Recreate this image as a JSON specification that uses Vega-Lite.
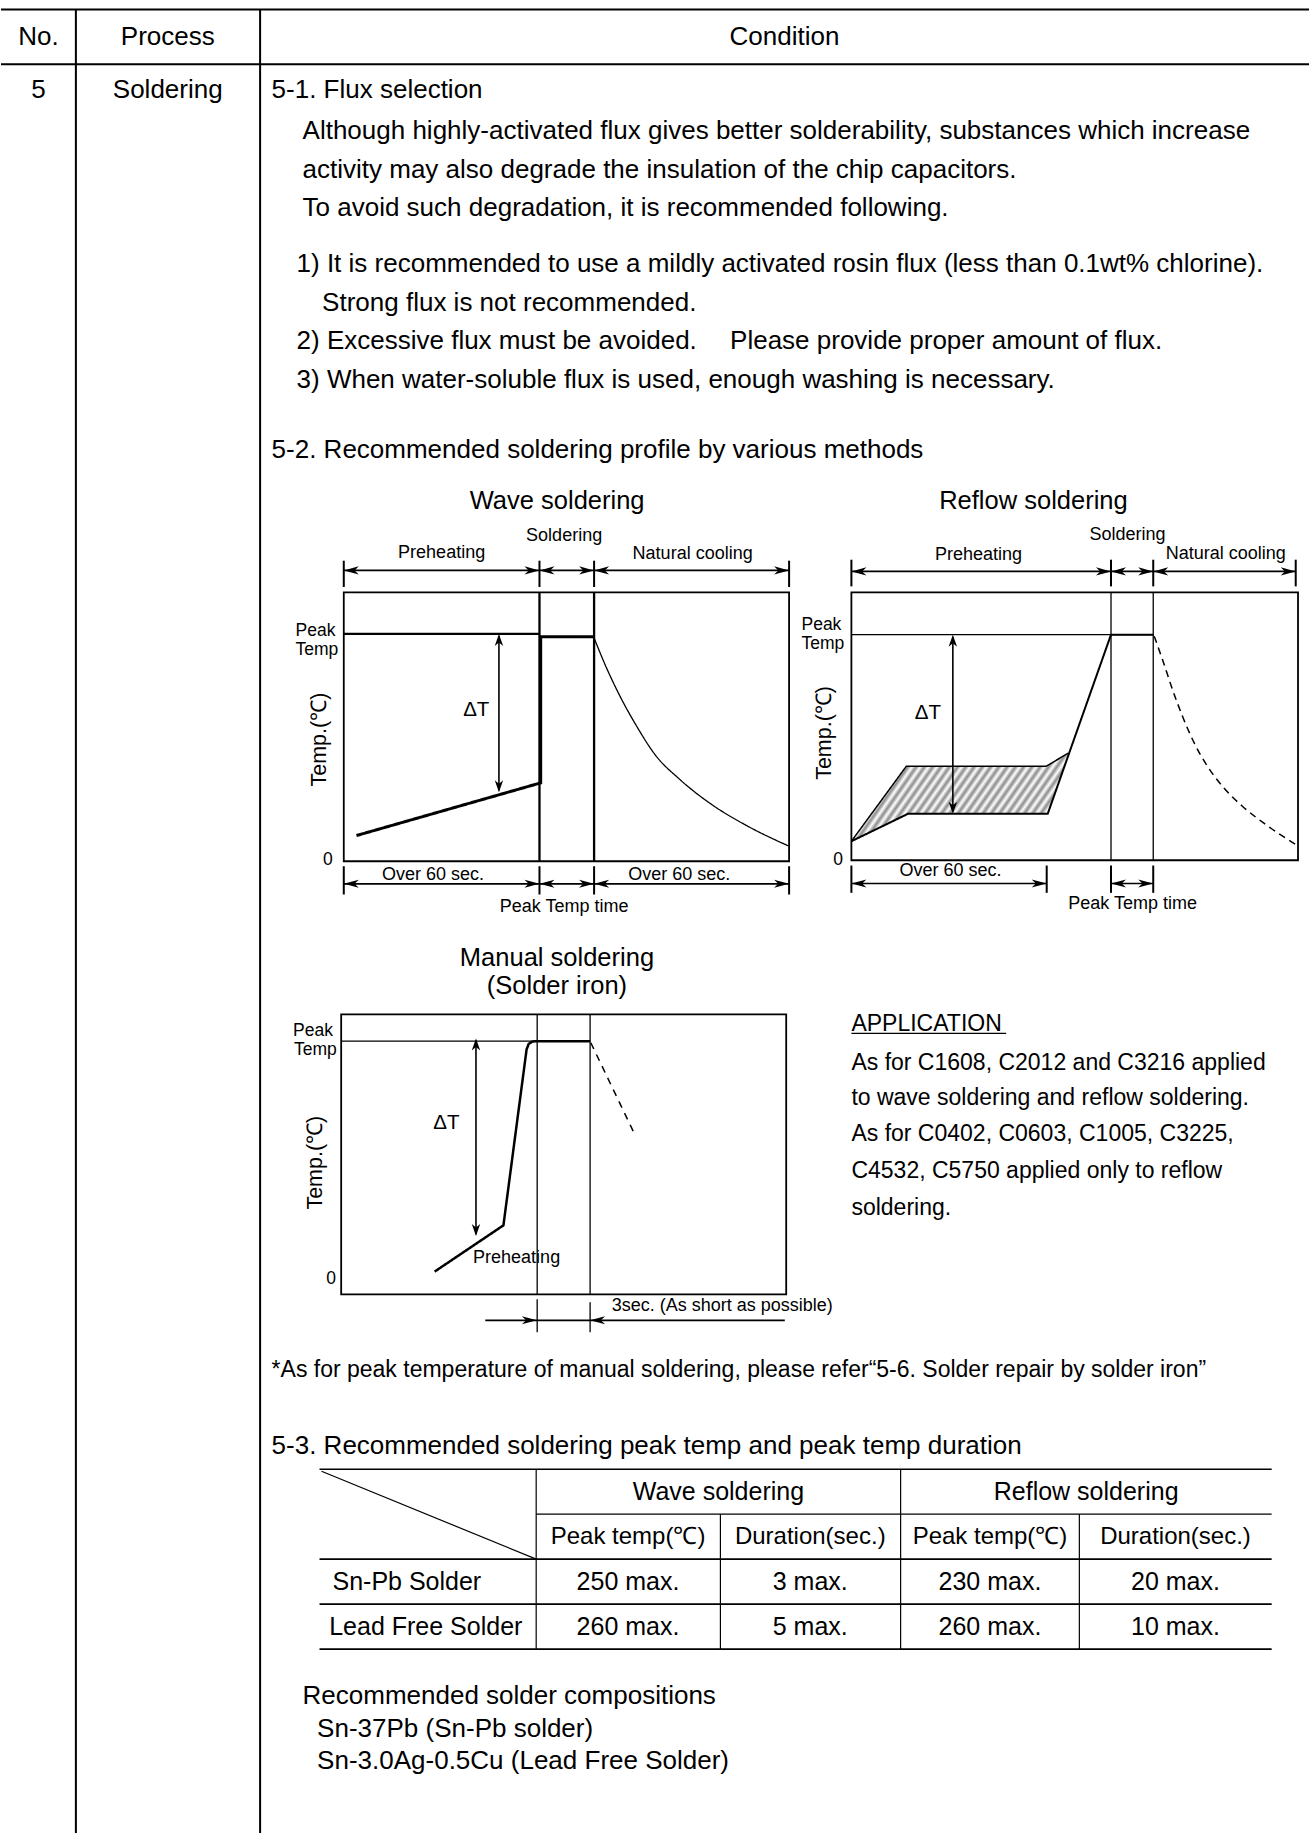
{
  "$schema": "https://vega.github.io/schema/vega-lite/v6.json",
  "width": 1310,
  "height": 1834,
  "padding": 0,
  "autosize": {"type": "fit", "contains": "padding"},
  "background": "white",
  "config": {"view": {"stroke": null}},
  "datasets": {
    "segs": [
      {"g":"page","x":0,"y":9.4,"x2":1310,"y2":9.4},
      {"g":"page","x":0,"y":64.3,"x2":1310,"y2":64.3},
      {"g":"page","x":75,"y":9.4,"x2":75,"y2":1834},
      {"g":"page","x":259.5,"y":9.4,"x2":259.5,"y2":1834},
      {"g":"wdiv","x":539.3,"y":592.7,"x2":539.3,"y2":861.7},
      {"g":"wdiv","x":594,"y":592.7,"x2":594,"y2":861.7},
      {"g":"wpeak","x":343.3,"y":634.3,"x2":539.3,"y2":634.3},
      {"g":"tick","x":343.3,"y":561,"x2":343.3,"y2":587.3},
      {"g":"tick","x":539.3,"y":561,"x2":539.3,"y2":587.3},
      {"g":"tick","x":594,"y":561,"x2":594,"y2":587.3},
      {"g":"tick","x":789.3,"y":561,"x2":789.3,"y2":587.3},
      {"g":"tick","x":343.3,"y":866.7,"x2":343.3,"y2":895},
      {"g":"tick","x":539.3,"y":866.7,"x2":539.3,"y2":895},
      {"g":"tick","x":594,"y":866.7,"x2":594,"y2":895},
      {"g":"tick","x":789.3,"y":866.7,"x2":789.3,"y2":895},
      {"g":"tick","x":851.7,"y":560,"x2":851.7,"y2":586.7},
      {"g":"tick","x":1111.7,"y":560,"x2":1111.7,"y2":586.7},
      {"g":"tick","x":1154,"y":560,"x2":1154,"y2":586.7},
      {"g":"tick","x":1296.7,"y":560,"x2":1296.7,"y2":586.7},
      {"g":"tick","x":851.7,"y":866,"x2":851.7,"y2":893.3},
      {"g":"tick","x":1047.3,"y":866,"x2":1047.3,"y2":893.3},
      {"g":"tick","x":1111.7,"y":866,"x2":1111.7,"y2":893.3},
      {"g":"tick","x":1154,"y":866,"x2":1154,"y2":893.3},
      {"g":"shaft","x":343.3,"y":570.7,"x2":789.3,"y2":570.7},
      {"g":"shaft","x":343.3,"y":884.3,"x2":789.3,"y2":884.3},
      {"g":"shaft","x":851.7,"y":571.7,"x2":1296.7,"y2":571.7},
      {"g":"shaft","x":851.7,"y":884,"x2":1047.3,"y2":884},
      {"g":"shaft","x":1111.7,"y":884,"x2":1154,"y2":884},
      {"g":"shaft","x":485,"y":1321,"x2":785,"y2":1321},
      {"g":"dt","x":498.7,"y":636,"x2":498.7,"y2":791},
      {"g":"dt","x":953.3,"y":637,"x2":953.3,"y2":812},
      {"g":"dt","x":475.7,"y":1041,"x2":475.7,"y2":1235},
      {"g":"thin","x":1111.7,"y":592.7,"x2":1111.7,"y2":860.7},
      {"g":"thin","x":1154,"y":592.7,"x2":1154,"y2":860.7},
      {"g":"thin","x":851.7,"y":635,"x2":1154,"y2":635},
      {"g":"thin","x":537,"y":1015,"x2":537,"y2":1295},
      {"g":"thin","x":590,"y":1015,"x2":590,"y2":1295},
      {"g":"thin","x":340.7,"y":1041.7,"x2":590,"y2":1041.7},
      {"g":"thin","x":537,"y":1300,"x2":537,"y2":1333},
      {"g":"thin","x":590,"y":1303,"x2":590,"y2":1333},
      {"g":"thin","x":851.7,"y":1034,"x2":1006.7,"y2":1034},
      {"g":"tbl","x":319,"y":1470,"x2":1272.6,"y2":1470},
      {"g":"tbl","x":319,"y":1560,"x2":1272.6,"y2":1560},
      {"g":"tbl","x":319,"y":1605,"x2":1272.6,"y2":1605},
      {"g":"tbl","x":319,"y":1650,"x2":1272.6,"y2":1650},
      {"g":"tblt","x":536,"y":1515,"x2":1272.6,"y2":1515},
      {"g":"tblt","x":536,"y":1470,"x2":536,"y2":1650},
      {"g":"tblt","x":901,"y":1470,"x2":901,"y2":1650},
      {"g":"tblt","x":720.5,"y":1515,"x2":720.5,"y2":1650},
      {"g":"tblt","x":1080,"y":1515,"x2":1080,"y2":1650},
      {"g":"tblt","x":321,"y":1472,"x2":536,"y2":1560}
    ],
    "boxes": [
      {"x":343.3,"x2":789.3,"y":592.7,"y2":861.7},
      {"x":851.7,"x2":1299,"y":592.7,"y2":860.7},
      {"x":340.7,"x2":786.4,"y":1015,"y2":1295}
    ],
    "hatch": [
      {"x":851.7,"y":841.7,"y2":841.7},
      {"x":906.7,"y":766.7,"y2":815.1},
      {"x":908.3,"y":766.7,"y2":814.3},
      {"x":1046.7,"y":766.7,"y2":814.3},
      {"x":1048.3,"y":765.8,"y2":814.3},
      {"x":1069,"y":753.5,"y2":753.5}
    ],
    "paths": [
      {"p":"waveProfile","o":1,"x":356,"y":836},
      {"p":"waveProfile","o":2,"x":540.5,"y":783.3},
      {"p":"waveProfile","o":3,"x":540.5,"y":637},
      {"p":"waveProfile","o":4,"x":594,"y":637},
      {"p":"reflowUpper","o":1,"x":851.7,"y":841.7},
      {"p":"reflowUpper","o":2,"x":906.7,"y":766.7},
      {"p":"reflowUpper","o":3,"x":1046.7,"y":766.7},
      {"p":"reflowUpper","o":4,"x":1069,"y":753.5},
      {"p":"reflowLower","o":1,"x":851.7,"y":841.7},
      {"p":"reflowLower","o":2,"x":908.3,"y":814.3},
      {"p":"reflowLower","o":3,"x":1048.3,"y":814.3},
      {"p":"reflowLower","o":4,"x":1111.7,"y":635},
      {"p":"reflowLower","o":5,"x":1154,"y":635},
      {"p":"manualProfile","o":1,"x":434.3,"y":1272.3},
      {"p":"manualProfile","o":2,"x":503.2,"y":1226},
      {"p":"manualProfile","o":3,"x":526.4,"y":1050},
      {"p":"manualProfile","o":4,"x":528.5,"y":1044.5},
      {"p":"manualProfile","o":5,"x":532,"y":1042.2},
      {"p":"manualProfile","o":6,"x":536,"y":1041.7},
      {"p":"manualProfile","o":7,"x":590,"y":1041.7},
      {"p":"manualCool","o":1,"x":590.7,"y":1043.3},
      {"p":"manualCool","o":2,"x":633.6,"y":1132.7},
      {"p":"waveCool","o":1,"x":594,"y":638.3},
      {"p":"waveCool","o":2,"x":605,"y":665},
      {"p":"waveCool","o":3,"x":620,"y":696.7},
      {"p":"waveCool","o":4,"x":636.7,"y":726.7},
      {"p":"waveCool","o":5,"x":655,"y":755},
      {"p":"waveCool","o":6,"x":680,"y":780},
      {"p":"waveCool","o":7,"x":713.3,"y":806},
      {"p":"waveCool","o":8,"x":746.7,"y":826},
      {"p":"waveCool","o":9,"x":789.3,"y":846.7},
      {"p":"reflowCool","o":1,"x":1155,"y":636.7},
      {"p":"reflowCool","o":2,"x":1163.3,"y":660},
      {"p":"reflowCool","o":3,"x":1173.3,"y":690},
      {"p":"reflowCool","o":4,"x":1183.3,"y":716.7},
      {"p":"reflowCool","o":5,"x":1195,"y":743.3},
      {"p":"reflowCool","o":6,"x":1208.3,"y":766.7},
      {"p":"reflowCool","o":7,"x":1223.3,"y":786.7},
      {"p":"reflowCool","o":8,"x":1243.3,"y":806.7},
      {"p":"reflowCool","o":9,"x":1266.7,"y":825},
      {"p":"reflowCool","o":10,"x":1296.7,"y":845}
    ],
    "heads": [
      {"x":343.3,"y":570.7,"dir":"l"},{"x":539.3,"y":570.7,"dir":"r"},
      {"x":539.3,"y":570.7,"dir":"l"},{"x":594,"y":570.7,"dir":"r"},
      {"x":594,"y":570.7,"dir":"l"},{"x":789.3,"y":570.7,"dir":"r"},
      {"x":343.3,"y":884.3,"dir":"l"},{"x":539.3,"y":884.3,"dir":"r"},
      {"x":539.3,"y":884.3,"dir":"l"},{"x":594,"y":884.3,"dir":"r"},
      {"x":594,"y":884.3,"dir":"l"},{"x":789.3,"y":884.3,"dir":"r"},
      {"x":851.7,"y":571.7,"dir":"l"},{"x":1111.7,"y":571.7,"dir":"r"},
      {"x":1111.7,"y":571.7,"dir":"l"},{"x":1154,"y":571.7,"dir":"r"},
      {"x":1154,"y":571.7,"dir":"l"},{"x":1296.7,"y":571.7,"dir":"r"},
      {"x":851.7,"y":884,"dir":"l"},{"x":1047.3,"y":884,"dir":"r"},
      {"x":1111.7,"y":884,"dir":"l"},{"x":1154,"y":884,"dir":"r"},
      {"x":536.7,"y":1321,"dir":"r"},{"x":590,"y":1321,"dir":"l"},
      {"x":498.7,"y":634.3,"dir":"u"},{"x":498.7,"y":792.7,"dir":"d"},
      {"x":953.3,"y":635,"dir":"u"},{"x":953.3,"y":814.3,"dir":"d"},
      {"x":475.7,"y":1039,"dir":"u"},{"x":475.7,"y":1236.7,"dir":"d"}
    ],
    "texts": [
      {"k":"c","t":"No.","x":37.5,"y":37},
      {"k":"c","t":"Process","x":167,"y":37},
      {"k":"c","t":"Condition","x":784.7,"y":37},
      {"k":"c","t":"5","x":37.5,"y":90},
      {"k":"c","t":"Soldering","x":167,"y":90},
      {"k":"b","t":"5-1. Flux selection","x":271,"y":90},
      {"k":"b","t":"Although highly-activated flux gives better solderability, substances which increase","x":302,"y":131},
      {"k":"b","t":"activity may also degrade the insulation of the chip capacitors.","x":302,"y":169.6},
      {"k":"b","t":"To avoid such degradation, it is recommended following.","x":302,"y":208},
      {"k":"b","t":"1) It is recommended to use a mildly activated rosin flux (less than 0.1wt% chlorine).","x":296,"y":264.3},
      {"k":"b","t":"Strong flux is not recommended.","x":321.6,"y":303},
      {"k":"b","t":"2) Excessive flux must be avoided.\u2003 Please provide proper amount of flux.","x":296,"y":341.5},
      {"k":"b","t":"3) When water-soluble flux is used, enough washing is necessary.","x":296,"y":380},
      {"k":"b","t":"5-2. Recommended soldering profile by various methods","x":271,"y":450},
      {"k":"b","t":"5-3. Recommended soldering peak temp and peak temp duration","x":271,"y":1447},
      {"k":"b","t":"Recommended solder compositions","x":302,"y":1697},
      {"k":"b","t":"Sn-37Pb (Sn-Pb solder)","x":316.6,"y":1730},
      {"k":"b","t":"Sn-3.0Ag-0.5Cu (Lead Free Solder)","x":316.6,"y":1761.7},
      {"k":"fn","t":"*As for peak temperature of manual soldering, please refer“5-6. Solder repair by solder iron”","x":271,"y":1371},
      {"k":"app","t":"APPLICATION","x":851.7,"y":1025},
      {"k":"app","t":"As for C1608, C2012 and C3216 applied","x":851.7,"y":1063.3},
      {"k":"app","t":"to wave soldering and reflow soldering.","x":851.7,"y":1098.3},
      {"k":"app","t":"As for C0402, C0603, C1005, C3225,","x":851.7,"y":1135},
      {"k":"app","t":"C4532, C5750 applied only to reflow","x":851.7,"y":1171.7},
      {"k":"app","t":"soldering.","x":851.7,"y":1208.3},
      {"k":"ti","t":"Wave soldering","x":557,"y":501},
      {"k":"ti","t":"Reflow soldering","x":1034,"y":501},
      {"k":"ti","t":"Manual soldering","x":556.8,"y":958.3},
      {"k":"ti","t":"(Solder iron)","x":556.8,"y":986.7},
      {"k":"s","t":"Soldering","x":564,"y":536},
      {"k":"s","t":"Preheating","x":441.3,"y":553.3},
      {"k":"s","t":"Natural cooling","x":692.7,"y":554.3},
      {"k":"s","t":"Over 60 sec.","x":432.7,"y":875},
      {"k":"s","t":"Over 60 sec.","x":679.3,"y":875},
      {"k":"s","t":"Peak Temp time","x":564,"y":907.3},
      {"k":"s","t":"Soldering","x":1128.3,"y":535},
      {"k":"s","t":"Preheating","x":979,"y":555.7},
      {"k":"s","t":"Natural cooling","x":1226.7,"y":554.3},
      {"k":"s","t":"Over 60 sec.","x":951,"y":871.7},
      {"k":"s","t":"Peak Temp time","x":1133.3,"y":904},
      {"k":"s","t":"Preheating","x":516.4,"y":1258.3},
      {"k":"sl","t":"3sec. (As short as possible)","x":611.7,"y":1306.7},
      {"k":"pk","t":"Peak","x":295,"y":631},
      {"k":"pk","t":"Temp","x":295,"y":650},
      {"k":"pk","t":"Peak","x":801.7,"y":625},
      {"k":"pk","t":"Temp","x":801.7,"y":644},
      {"k":"pk","t":"Peak","x":292.5,"y":1031.7},
      {"k":"pk","t":"Temp","x":293.5,"y":1050.7},
      {"k":"z","t":"0","x":327.3,"y":860},
      {"k":"z","t":"0","x":838.3,"y":860.7},
      {"k":"z","t":"0","x":330.7,"y":1279.3},
      {"k":"dt","t":"ΔT","x":476,"y":710.7},
      {"k":"dt","t":"ΔT","x":928.3,"y":713.3},
      {"k":"dt","t":"ΔT","x":446,"y":1123.3},
      {"k":"r","t":"Temp.(℃)","x":319.3,"y":740},
      {"k":"r","t":"Temp.(℃)","x":825,"y":733.3},
      {"k":"r","t":"Temp.(℃)","x":315.7,"y":1163.3},
      {"k":"tc","t":"Wave soldering","x":718.5,"y":1493},
      {"k":"tc","t":"Reflow soldering","x":1086.8,"y":1493},
      {"k":"th","t":"Peak temp(℃)","x":628,"y":1537.5},
      {"k":"th","t":"Duration(sec.)","x":810.5,"y":1537.5},
      {"k":"th","t":"Peak temp(℃)","x":990.5,"y":1537.5},
      {"k":"th","t":"Duration(sec.)","x":1176.3,"y":1537.5},
      {"k":"tl","t":"Sn-Pb Solder","x":332,"y":1583},
      {"k":"tc","t":"250 max.","x":628,"y":1583},
      {"k":"tc","t":"3 max.","x":810.5,"y":1583},
      {"k":"tc","t":"230 max.","x":990.5,"y":1583},
      {"k":"tc","t":"20 max.","x":1176.3,"y":1583},
      {"k":"tl","t":"Lead Free Solder","x":328.7,"y":1628},
      {"k":"tc","t":"260 max.","x":628,"y":1628},
      {"k":"tc","t":"5 max.","x":810.5,"y":1628},
      {"k":"tc","t":"260 max.","x":990.5,"y":1628},
      {"k":"tc","t":"10 max.","x":1176.3,"y":1628}
    ]
  },
  "encoding": {
    "x": {"field": "x", "type": "quantitative", "scale": {"domain": [0, 1310], "nice": false, "zero": false}, "axis": null},
    "y": {"field": "y", "type": "quantitative", "scale": {"domain": [0, 1834], "reverse": true, "nice": false, "zero": false}, "axis": null}
  },
  "resolve": {"scale": {"strokeWidth": "independent", "strokeDash": "independent"}},
  "layer": [
    {
      "data": {"name": "hatch"},
      "mark": {"type": "area", "stroke": null, "opacity": 1, "fill": {"gradient": "linear", "x1": 0, "y1": 0, "x2": 1.2, "y2": 0.34, "stops": [
        {"offset":0,"color":"#8c8c8c"},{"offset":0.0147,"color":"#ffffff"},{"offset":0.0294,"color":"#8c8c8c"},{"offset":0.0441,"color":"#ffffff"},
        {"offset":0.0588,"color":"#8c8c8c"},{"offset":0.0735,"color":"#ffffff"},{"offset":0.0882,"color":"#8c8c8c"},{"offset":0.1029,"color":"#ffffff"},
        {"offset":0.1176,"color":"#8c8c8c"},{"offset":0.1324,"color":"#ffffff"},{"offset":0.1471,"color":"#8c8c8c"},{"offset":0.1618,"color":"#ffffff"},
        {"offset":0.1765,"color":"#8c8c8c"},{"offset":0.1912,"color":"#ffffff"},{"offset":0.2059,"color":"#8c8c8c"},{"offset":0.2206,"color":"#ffffff"},
        {"offset":0.2353,"color":"#8c8c8c"},{"offset":0.25,"color":"#ffffff"},{"offset":0.2647,"color":"#8c8c8c"},{"offset":0.2794,"color":"#ffffff"},
        {"offset":0.2941,"color":"#8c8c8c"},{"offset":0.3088,"color":"#ffffff"},{"offset":0.3235,"color":"#8c8c8c"},{"offset":0.3382,"color":"#ffffff"},
        {"offset":0.3529,"color":"#8c8c8c"},{"offset":0.3676,"color":"#ffffff"},{"offset":0.3824,"color":"#8c8c8c"},{"offset":0.3971,"color":"#ffffff"},
        {"offset":0.4118,"color":"#8c8c8c"},{"offset":0.4265,"color":"#ffffff"},{"offset":0.4412,"color":"#8c8c8c"},{"offset":0.4559,"color":"#ffffff"},
        {"offset":0.4706,"color":"#8c8c8c"},{"offset":0.4853,"color":"#ffffff"},{"offset":0.5,"color":"#8c8c8c"},{"offset":0.5147,"color":"#ffffff"},
        {"offset":0.5294,"color":"#8c8c8c"},{"offset":0.5441,"color":"#ffffff"},{"offset":0.5588,"color":"#8c8c8c"},{"offset":0.5735,"color":"#ffffff"},
        {"offset":0.5882,"color":"#8c8c8c"},{"offset":0.6029,"color":"#ffffff"},{"offset":0.6176,"color":"#8c8c8c"},{"offset":0.6324,"color":"#ffffff"},
        {"offset":0.6471,"color":"#8c8c8c"},{"offset":0.6618,"color":"#ffffff"},{"offset":0.6765,"color":"#8c8c8c"},{"offset":0.6912,"color":"#ffffff"},
        {"offset":0.7059,"color":"#8c8c8c"},{"offset":0.7206,"color":"#ffffff"},{"offset":0.7353,"color":"#8c8c8c"},{"offset":0.75,"color":"#ffffff"},
        {"offset":0.7647,"color":"#8c8c8c"},{"offset":0.7794,"color":"#ffffff"},{"offset":0.7941,"color":"#8c8c8c"},{"offset":0.8088,"color":"#ffffff"},
        {"offset":0.8235,"color":"#8c8c8c"},{"offset":0.8382,"color":"#ffffff"},{"offset":0.8529,"color":"#8c8c8c"},{"offset":0.8676,"color":"#ffffff"},
        {"offset":0.8824,"color":"#8c8c8c"},{"offset":0.8971,"color":"#ffffff"},{"offset":0.9118,"color":"#8c8c8c"},{"offset":0.9265,"color":"#ffffff"},
        {"offset":0.9412,"color":"#8c8c8c"},{"offset":0.9559,"color":"#ffffff"},{"offset":0.9706,"color":"#8c8c8c"},{"offset":0.9853,"color":"#ffffff"},
        {"offset":1,"color":"#8c8c8c"}
      ]}},
      "encoding": {"y2": {"field": "y2"}}
    },
    {
      "data": {"name": "boxes"},
      "mark": {"type": "rect", "filled": false, "color": "black", "strokeWidth": 1.8},
      "encoding": {"x2": {"field": "x2"}, "y2": {"field": "y2"}}
    },
    {
      "data": {"name": "segs"},
      "mark": {"type": "rule", "color": "black", "strokeCap": "butt"},
      "encoding": {
        "x2": {"field": "x2"}, "y2": {"field": "y2"},
        "strokeWidth": {"field": "g", "type": "nominal", "legend": null, "scale": {"type": "ordinal", "domain": ["page","wdiv","wpeak","tick","shaft","dt","thin","tbl","tblt"], "range": [2, 2.3, 2.2, 2, 1.7, 1.6, 1.3, 1.6, 1.2]}}
      }
    },
    {
      "data": {"name": "paths"},
      "transform": [{"filter": {"field": "p", "oneOf": ["waveProfile","reflowUpper","reflowLower","manualProfile","manualCool"]}}],
      "mark": {"type": "line", "color": "black", "strokeJoin": "miter"},
      "encoding": {
        "detail": {"field": "p"},
        "order": {"field": "o", "type": "quantitative"},
        "strokeWidth": {"field": "p", "type": "nominal", "legend": null, "scale": {"type": "ordinal", "domain": ["waveProfile","reflowUpper","reflowLower","manualProfile","manualCool"], "range": [3, 1.5, 2, 2.5, 1.5]}},
        "strokeDash": {"field": "p", "type": "nominal", "legend": null, "scale": {"domain": ["waveProfile","reflowUpper","reflowLower","manualProfile","manualCool"], "range": [[1,0],[1,0],[1,0],[1,0],[7,6]]}}
      }
    },
    {
      "data": {"name": "paths"},
      "transform": [{"filter": {"field": "p", "oneOf": ["waveCool","reflowCool"]}}],
      "mark": {"type": "line", "color": "black", "interpolate": "monotone"},
      "encoding": {
        "detail": {"field": "p"},
        "order": {"field": "o", "type": "quantitative"},
        "strokeWidth": {"field": "p", "type": "nominal", "legend": null, "scale": {"type": "ordinal", "domain": ["waveCool","reflowCool"], "range": [1.3, 1.5]}},
        "strokeDash": {"field": "p", "type": "nominal", "legend": null, "scale": {"domain": ["waveCool","reflowCool"], "range": [[1,0],[7,5]]}}
      }
    },
    {
      "data": {"name": "heads"},
      "transform": [{"filter": {"field": "dir", "oneOf": ["l","r"]}}],
      "mark": {"type": "point", "filled": true, "color": "black", "opacity": 1, "strokeWidth": 0, "size": 900},
      "encoding": {
        "shape": {"field": "dir", "type": "nominal", "legend": null, "scale": {"domain": ["r","l","u","d"], "range": ["M0,0L-1,-0.27L-0.72,0L-1,0.27Z","M0,0L1,-0.27L0.72,0L1,0.27Z","M0,0L-0.35,1L0,0.72L0.35,1Z","M0,0L-0.35,-1L0,-0.72L0.35,-1Z"]}}
      }
    },
    {
      "data": {"name": "heads"},
      "transform": [{"filter": {"field": "dir", "oneOf": ["u","d"]}}],
      "mark": {"type": "point", "filled": true, "color": "black", "opacity": 1, "strokeWidth": 0, "size": 576},
      "encoding": {
        "shape": {"field": "dir", "type": "nominal", "legend": null, "scale": {"domain": ["r","l","u","d"], "range": ["M0,0L-1,-0.27L-0.72,0L-1,0.27Z","M0,0L1,-0.27L0.72,0L1,0.27Z","M0,0L-0.35,1L0,0.72L0.35,1Z","M0,0L-0.35,-1L0,-0.72L0.35,-1Z"]}}
      }
    },
    {
      "data": {"name": "texts"},
      "transform": [{"filter": {"field": "k", "oneOf": ["b","fn","app","pk","sl","tl"]}}],
      "mark": {"type": "text", "align": "left", "baseline": "middle", "font": "Liberation Sans", "color": "black"},
      "encoding": {
        "text": {"field": "t"},
        "size": {"field": "k", "type": "nominal", "legend": null, "scale": {"type": "ordinal", "domain": ["b","fn","app","pk","sl","tl","c","ti","s","z","dt","tc","th","r"], "range": [26, 23, 23, 17.5, 18, 25, 26, 25.5, 18, 17.5, 20.5, 25, 24, 21.5]}}
      }
    },
    {
      "data": {"name": "texts"},
      "transform": [{"filter": {"field": "k", "oneOf": ["c","ti","s","z","dt","tc","th"]}}],
      "mark": {"type": "text", "align": "center", "baseline": "middle", "font": "Liberation Sans", "color": "black"},
      "encoding": {
        "text": {"field": "t"},
        "size": {"field": "k", "type": "nominal", "legend": null, "scale": {"type": "ordinal", "domain": ["b","fn","app","pk","sl","tl","c","ti","s","z","dt","tc","th","r"], "range": [26, 23, 23, 17.5, 18, 25, 26, 25.5, 18, 17.5, 20.5, 25, 24, 21.5]}}
      }
    },
    {
      "data": {"name": "texts"},
      "transform": [{"filter": {"field": "k", "equal": "r"}}],
      "mark": {"type": "text", "align": "center", "baseline": "middle", "font": "Liberation Sans", "color": "black", "angle": 270},
      "encoding": {
        "text": {"field": "t"},
        "size": {"field": "k", "type": "nominal", "legend": null, "scale": {"type": "ordinal", "domain": ["b","fn","app","pk","sl","tl","c","ti","s","z","dt","tc","th","r"], "range": [26, 23, 23, 17.5, 18, 25, 26, 25.5, 18, 17.5, 20.5, 25, 24, 21.5]}}
      }
    }
  ]
}
